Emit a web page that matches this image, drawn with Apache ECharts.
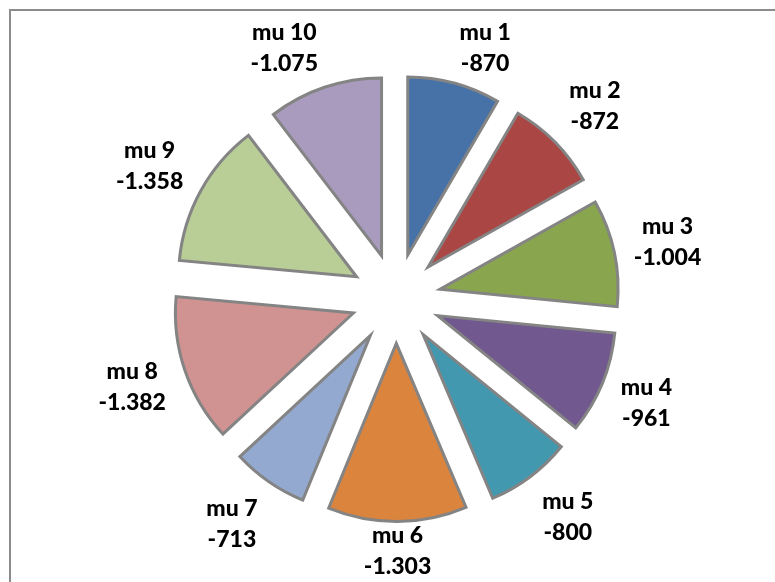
<!DOCTYPE html>
<html>
<head>
<meta charset="utf-8">
<script src="https://cdn.jsdelivr.net/npm/echarts@6/dist/echarts.min.js"></script>
<style>
  html, body { margin: 0; padding: 0; background: #fff; }
  #chart { width: 775px; height: 582px; }
</style>
</head>
<body>
<div id="chart"></div>
<script>
// ---- data ----
const categories = ['mu 1', 'mu 2', 'mu 3', 'mu 4', 'mu 5', 'mu 6', 'mu 7', 'mu 8', 'mu 9', 'mu 10'];
const values = [-870, -872, -1004, -961, -800, -1303, -713, -1382, -1358, -1075];

// ---- style ----
const palette = ['#4672A8', '#AA4644', '#89A54E', '#71588F', '#4198AF',
                 '#DB843D', '#93A9CF', '#D19392', '#B9CD96', '#A99BBD'];
const CX = 396, CY = 298.5, R = 178, OFFSET = 45;
const EX = 243, EY = 274, TOP_LIMIT = 17;

function fmt(v) {
  const s = v < 0 ? '-' : '';
  const a = Math.abs(v).toString();
  return s + a.replace(/\B(?=(\d{3})+(?!\d))/g, '.');
}

const chart = echarts.init(document.getElementById('chart'), null, { renderer: 'canvas' });

const pieData = categories.map((c, i) => ({ name: c, value: Math.abs(values[i]), selected: true }));
const labelData = categories.map((c, i) => ({ name: c, value: Math.abs(values[i]) }));

const option = {
  animation: false,
  color: palette,
  graphic: [{
    type: 'polyline',
    shape: { points: [[10, 640], [10, 10], [840, 10]] },
    style: { fill: 'none', stroke: '#8c8c8c', lineWidth: 2 },
    silent: true,
    z: -10
  }],
  series: [
    {
      type: 'pie',
      center: [CX, CY],
      radius: [0, R],
      startAngle: 90,
      clockwise: true,
      selectedMode: 'multiple',
      selectedOffset: OFFSET,
      avoidLabelOverlap: false,
      silent: true,
      label: { show: false },
      labelLine: { show: false },
      itemStyle: { borderColor: '#848484', borderWidth: 3, borderJoin: 'miter' },
      select: { itemStyle: { borderColor: '#848484', borderWidth: 3 } },
      emphasis: { disabled: true },
      data: pieData
    },
    {
      type: 'pie',
      center: [CX, CY],
      radius: [0, R + OFFSET],
      startAngle: 90,
      clockwise: true,
      avoidLabelOverlap: false,
      silent: true,
      itemStyle: { color: 'rgba(0,0,0,0)', borderWidth: 0 },
      emphasis: { disabled: true },
      label: {
        show: true,
        position: 'outside',
        formatter: p => p.name + '\n' + fmt(values[p.dataIndex]),
        fontFamily: 'Lato',
        fontWeight: 900,
        fontSize: 23,
        lineHeight: 31,
        color: '#000'
      },
      labelLine: { show: true, length: 10, length2: 0, lineStyle: { opacity: 0 } },
      labelLayout: function (p) {
        const pts = p.labelLinePoints;
        if (!pts) return {};
        const ax = pts[0][0] - CX, ay = pts[0][1] - CY;
        const len = Math.hypot(ax, ay) || 1;
        const ux = ax / len, uy = ay / len;
        const w = p.labelRect.width, h = p.labelRect.height;
        let x = CX + EX * ux;
        if (Math.abs(ux) >= 0.1) x += Math.sign(ux) * w / 2;
        let y = CY + EY * uy;
        const H = chart.getHeight();
        y = Math.max(TOP_LIMIT + h / 2, Math.min(H - h / 2, y));
        return { x: x, y: y, align: 'center', verticalAlign: 'middle' };
      },
      data: labelData
    }
  ]
};
chart.setOption(option);
</script>
</body>
</html>
